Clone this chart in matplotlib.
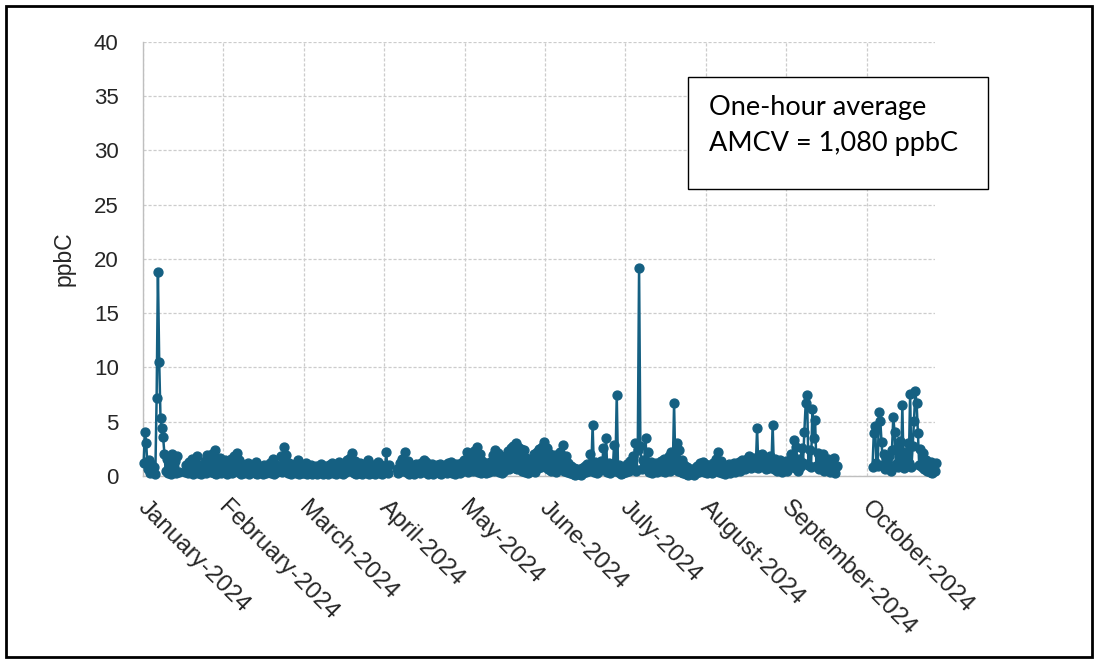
import matplotlib
matplotlib.use("Agg")

import numpy as np
import matplotlib.pyplot as plt
import matplotlib.transforms as mtransforms
from matplotlib.patches import Rectangle

plt.rcParams["font.family"] = ["Liberation Sans", "DejaVu Sans"]

# 12-hour readings for each month of 2024 (ppbC), None = no data
jan = [1.2, 4.1, 3.0, 0.6, 1.5, 0.3, 1.1, 0.4, 0.8, 0.2,
       7.2, 18.8, 10.5, 5.3, 4.4, 3.6, 2.0, 0.5, 1.6, 0.3,
       1.2, 0.2, 2.0, 0.6, 1.4, 0.3, 1.8, 0.4, None, None,
       None, None, 0.4, 1.0, 0.3, 1.3, 0.5, 1.6, 0.2, 1.4,
       0.6, 1.8, 0.3, 1.0, 0.2, 0.8, 0.5, 1.4, 0.3, 1.9,
       0.6, 1.7, 0.4, 2.0, 0.3, 2.4, 0.2, 1.2, 0.5, 1.7,
       0.3, 1.3]
feb = [0.4, 1.5, 0.2, 1.2, 0.5, 1.6, 0.3, 1.8, 0.6, 2.1,
       0.4, 1.5, 0.2, 1.1, 0.3, 0.9, 0.5, 1.2, 0.2, 0.8,
       0.4, 1.0, 0.3, 1.3, 0.2, 0.9, 0.4, 0.7, 0.2, 1.0,
       0.3, 0.8, 0.5, 1.2, 0.3, 1.6, 0.2, 1.1, 0.4, 0.9,
       0.6, 1.8, 0.4, 2.7, 0.5, 1.9, 0.3, 1.2, 0.2, 0.8,
       0.4, 1.1, 0.3, 1.5, 0.2, 0.9, 0.3, 0.7]
mar = [0.3, 1.2, 0.2, 0.9, 0.4, 1.0, 0.2, 0.7, 0.3, 0.9,
       0.2, 0.8, 0.4, 1.1, 0.2, 0.9, 0.3, 0.8, 0.2, 1.0,
       0.4, 1.2, 0.3, 0.9, 0.2, 1.0, 0.5, 1.3, 0.3, 1.1,
       0.2, 1.2, 0.4, 1.5, 0.6, 1.7, 0.5, 2.1, 0.3, 1.4,
       0.2, 1.0, 0.3, 1.2, 0.2, 0.9, 0.4, 1.1, 0.3, 1.5,
       0.2, 1.0, 0.3, 0.8, 0.2, 1.1, 0.4, 1.3, 0.3, 1.0,
       0.2, 0.9]
apr = [0.4, 2.2, 0.3, 1.0, None, None, None, None, None, 0.6,
       0.3, 1.2, 0.5, 1.6, 0.6, 2.2, 0.4, 1.4, 0.2, 1.0,
       0.3, 0.9, 0.2, 1.1, 0.4, 1.0, 0.3, 1.2, 0.5, 1.5,
       0.4, 1.3, 0.2, 1.0, 0.3, 1.1, 0.2, 0.9, 0.4, 1.0,
       0.3, 1.1, 0.2, 0.8, 0.4, 1.0, 0.3, 1.2, 0.5, 1.3,
       0.3, 1.0, 0.2, 1.1, 0.4, 0.9, 0.3, 1.2, 0.5, 1.5]
may = [0.6, 2.2, 0.4, 1.8, 0.7, 1.6, 0.5, 2.3, 0.6, 2.7,
       0.4, 2.0, 0.3, 1.4, 0.5, 1.2, 0.3, 1.0, 0.4, 1.3,
       0.6, 1.9, 0.5, 2.4, 0.7, 2.1, 0.4, 1.6, 0.3, 1.2,
       0.5, 1.8, 0.7, 2.3, 0.6, 2.6, 0.8, 2.8, 0.7, 3.0,
       0.6, 2.7, 0.8, 2.5, 0.5, 2.4, 0.4, 1.7, 0.3, 1.4,
       0.5, 1.5, 0.6, 2.0, 0.4, 2.2, 0.7, 2.5, 0.8, 2.7,
       0.9, 3.1]
jun = [0.8, 2.6, 0.6, 2.0, 0.5, 1.6, 0.7, 1.9, 0.4, 1.5,
       0.6, 2.2, 0.8, 2.9, 0.5, 1.8, 0.4, 1.2, 0.3, 0.9,
       0.2, 0.7, 0.1, 0.6, 0.2, 0.5, 0.1, 0.7, 0.3, 0.9,
       0.4, 1.1, 0.5, 2.0, 0.6, 4.7, 0.4, 1.3, 0.3, 1.0,
       0.5, 1.4, 0.6, 2.6, 0.7, 3.5, 0.4, 1.2, 0.3, 0.8,
       0.5, 2.9, 0.6, 7.5, 0.4, 1.0, 0.2, 0.6, 0.3, 0.8]
jul = [0.4, 1.1, 0.5, 1.4, 0.6, 1.8, 0.7, 3.0, 0.5, 2.4,
       19.2, 2.8, 0.6, 1.5, 0.8, 3.5, 0.6, 2.2, 0.4, 1.3,
       0.3, 1.0, 0.5, 1.2, 0.4, 0.9, 0.6, 1.4, 0.5, 1.6,
       0.4, 1.3, 0.6, 1.8, 0.5, 2.2, 0.7, 6.7, 0.6, 3.0,
       0.5, 2.4, 0.4, 1.5, 0.3, 1.0, 0.2, 0.8, 0.1, 0.6,
       0.2, 0.5, 0.1, 0.7, 0.3, 0.9, 0.4, 1.2, 0.5, 1.3,
       0.4, 1.1]
aug = [0.3, 1.0, 0.4, 0.9, 0.3, 1.2, 0.5, 1.6, 0.6, 2.2,
       0.4, 1.4, 0.3, 1.0, 0.2, 0.8, 0.4, 1.1, 0.3, 0.9,
       0.5, 1.2, 0.4, 1.0, 0.6, 1.3, 0.5, 1.5, 0.7, 1.4,
       0.6, 1.6, 0.8, 1.8, 0.7, 1.5, 0.9, 1.7, 0.8, 4.4,
       0.7, 1.9, 0.9, 2.0, 0.8, 1.7, 0.6, 1.5, 0.7, 1.8,
       0.8, 4.7, 0.6, 1.6, 0.5, 1.3, 0.7, 1.5, 0.4, 1.2,
       0.6, 1.4]
sep = [0.5, 1.4, 0.8, 2.0, 1.0, 3.3, 0.7, 2.7, 0.5, 1.6,
       0.8, 2.6, 1.2, 4.1, 6.7, 7.5, 1.0, 2.4, 0.8, 6.2,
       3.5, 5.2, 0.9, 2.1, 0.6, 1.5, 0.8, 2.0, 0.5, 1.3,
       0.7, 1.6, 0.4, 1.2, 0.6, 1.7, 0.3, 0.9] + [None] * 22
oct_ = [None, None, None, None, 0.8, 4.0, 4.6, 1.2, 0.9, 5.9,
        5.1, 3.1, 1.0, 2.0, 0.6, 1.4, 0.8, 1.8, 0.5, 2.4,
        5.4, 4.1, 1.1, 2.6, 0.8, 3.2, 1.0, 6.5, 0.7, 2.2,
        0.9, 3.0, 1.2, 7.6, 0.8, 2.8, 5.1, 7.8, 6.7, 4.0,
        1.0, 2.5, 0.8, 2.1, 0.6, 1.5, 0.5, 1.2, 0.4, 1.3,
        0.3, 1.0, 0.5, 1.2]

months = [jan, feb, mar, apr, may, jun, jul, aug, sep, oct_]
days_in_month = [31, 29, 31, 30, 31, 30, 31, 31, 30, 31]
month_labels = ["January-2024", "February-2024", "March-2024", "April-2024",
                "May-2024", "June-2024", "July-2024", "August-2024",
                "September-2024", "October-2024"]

# each month gets one unit on the x axis; readings are every half day
xs, ys = [], []
for m, (vals, nd) in enumerate(zip(months, days_in_month)):
    for i, v in enumerate(vals):
        xs.append(m + (i * 0.5 + 0.25) / nd)
        ys.append(np.nan if v is None else v)

fig = plt.figure(figsize=(10.95, 6.6), dpi=100)
ax = fig.add_axes([0.1306, 0.2788, 0.7233, 0.6576])

blue = "#156082"
ax.plot(xs, ys, color=blue, linewidth=1.8, marker="o", markersize=6.4,
        markerfacecolor=blue, markeredgecolor=blue, clip_on=False, zorder=3)

ax.set_xlim(0, 9.85)
ax.set_ylim(0, 40)
ax.set_yticks(range(0, 41, 5))
ax.set_xticks(range(10))
ax.set_xticklabels(month_labels, rotation=-45, ha="left", va="top",
                   rotation_mode="anchor", fontsize=17.5)
ax.tick_params(axis="both", length=0, labelcolor="#262626")
ax.tick_params(axis="y", pad=17.5, labelsize=16)
ax.tick_params(axis="x", pad=15)

# nudge the slanted month labels a little to the right
shift = mtransforms.ScaledTranslation(6 / 100, 0, fig.dpi_scale_trans)
for lbl in ax.get_xticklabels():
    lbl.set_transform(lbl.get_transform() + shift)

ax.grid(True, color="#cccccc", linestyle=(0, (2.5, 1.5)), linewidth=0.9)
ax.set_axisbelow(True)
for side in ["top", "right"]:
    ax.spines[side].set_visible(False)
for side in ["left", "bottom"]:
    ax.spines[side].set_color("#bfbfbf")
    ax.spines[side].set_linewidth(1.0)

ax.set_ylabel("ppbC", fontsize=16.5, color="#262626", labelpad=13)

# note box with the AMCV value
box = Rectangle((0.688, 0.661), 0.379, 0.258, transform=ax.transAxes,
                facecolor="white", edgecolor="black", linewidth=1.0,
                clip_on=False, zorder=5)
ax.add_patch(box)
ax.text(0.7146, 0.850, "One-hour average", transform=ax.transAxes,
        fontsize=19.5, family=["Lato", "DejaVu Sans"], va="center", ha="left",
        zorder=6)
ax.text(0.7146, 0.767, "AMCV = 1,080 ppbC", transform=ax.transAxes,
        fontsize=19.5, family=["Lato", "DejaVu Sans"], va="center", ha="left",
        zorder=6)

# outer frame
fig.patches.append(Rectangle((6 / 1095, 3 / 660), 1086 / 1095, 651 / 660,
                             transform=fig.transFigure, fill=False,
                             edgecolor="black", linewidth=2))

fig.savefig("out.png", dpi=100)
